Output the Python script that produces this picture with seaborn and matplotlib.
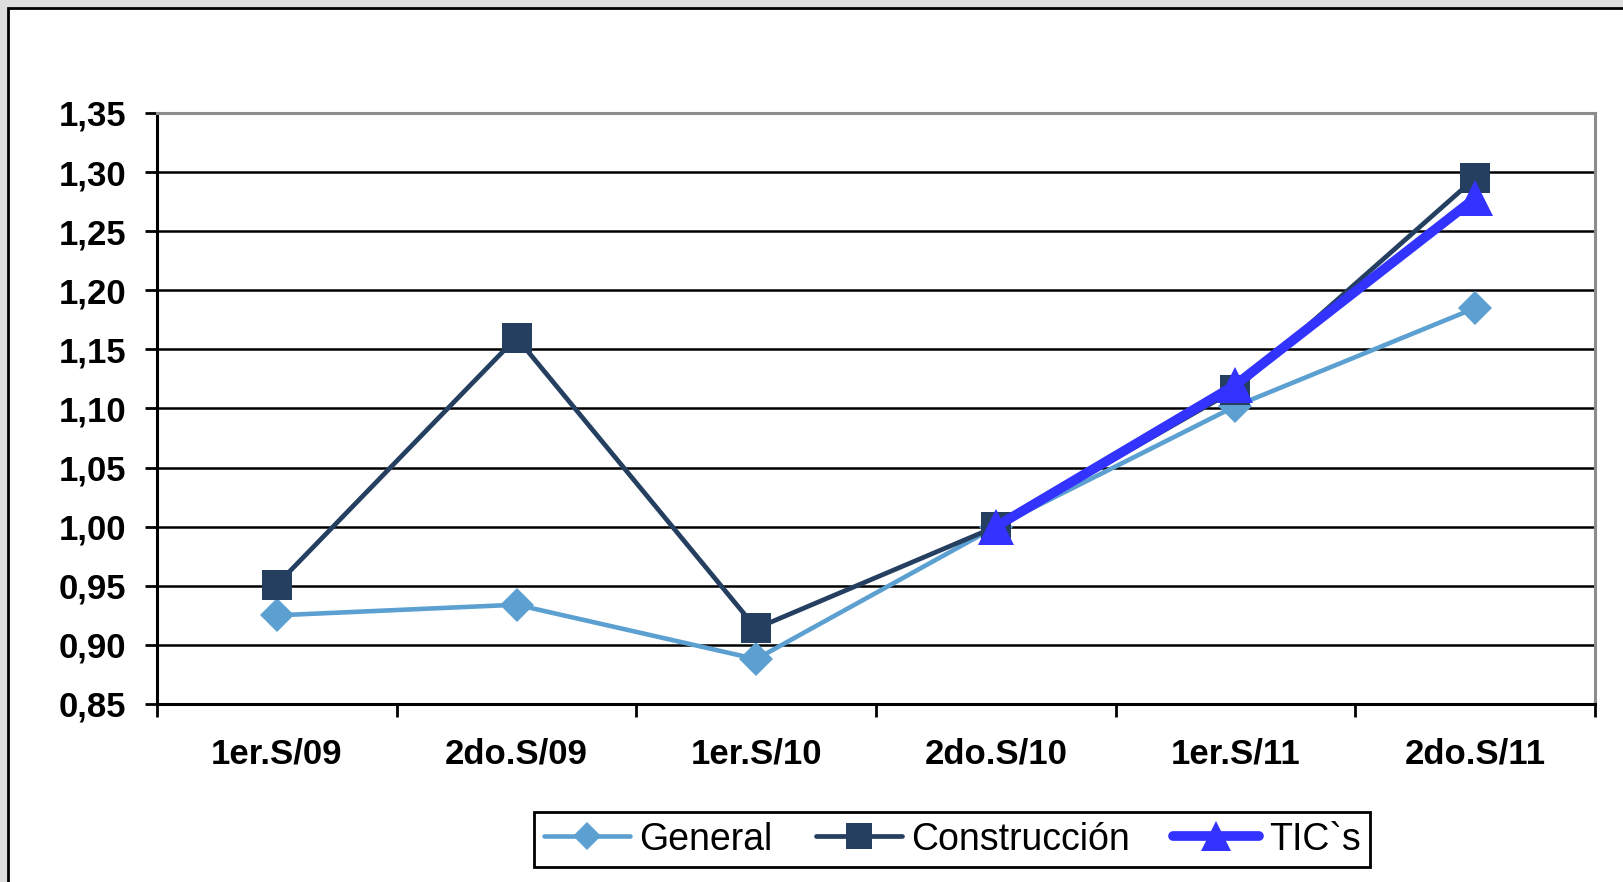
import numpy as np
import pandas as pd
import seaborn as sns
import matplotlib.pyplot as plt
from matplotlib.patches import Rectangle
from matplotlib.ticker import FuncFormatter, FixedLocator
from matplotlib import font_manager

sns.set_style('white')
plt.rcParams['font.family'] = ['Liberation Sans', 'DejaVu Sans']
plt.rcParams['text.color'] = 'black'
plt.rcParams['xtick.color'] = 'black'
plt.rcParams['ytick.color'] = 'black'

periodos = ['1er.S/09', '2do.S/09', '1er.S/10', '2do.S/10', '1er.S/11', '2do.S/11']
general = [0.925, 0.934, 0.888, 1.000, 1.102, 1.185]
construccion = [0.951, 1.160, 0.914, 1.000, 1.116, 1.295]
tics = [np.nan, np.nan, np.nan, 1.000, 1.120, 1.278]
y_ticks = [0.85, 0.90, 0.95, 1.00, 1.05, 1.10, 1.15, 1.20, 1.25, 1.30, 1.35]

df = pd.DataFrame({'periodo': periodos, 'General': general,
                   'Construcción': construccion, 'TIC`s': tics})

W, H = 1624, 882
fig = plt.figure(figsize=(W / 100, H / 100), dpi=100, facecolor='#dedede')
fig.patches.append(Rectangle((8.5 / W, -0.05), 1.1, 1 - 7.5 / H + 0.05,
                             transform=fig.transFigure, facecolor='white',
                             edgecolor='black', linewidth=2, zorder=-10))

ax = fig.add_axes([157 / W, (H - 704) / H, (1595 - 157) / W, (704 - 113) / H])
ax.set_facecolor('white')

# series: (name, colour, marker, line width, marker size)
series = [('General', '#5BA0D0', 'D', 3.3, 17),
          ('Construcción', '#243F60', 's', 3.4, 22),
          ('TIC`s', '#3333FF', '^', 7.0, 26)]
x = np.arange(len(periodos))
for name, color, marker, lw, ms in series:
    sns.lineplot(x=x, y=df[name].values, ax=ax, color=color, marker=marker,
                 linewidth=lw, markersize=ms, markeredgewidth=0, label=name,
                 zorder=3)

ax.set_xlim(-0.5, len(periodos) - 0.5)
ax.set_ylim(0.85, 1.35)
ax.yaxis.set_major_locator(FixedLocator(y_ticks))
ax.yaxis.set_major_formatter(FuncFormatter(lambda v, p: f'{v:.2f}'.replace('.', ',')))
ax.grid(axis='y', color='black', linewidth=1.8)
ax.grid(axis='x', visible=False)

ax.set_xticks(np.arange(-0.5, len(periodos)), minor=False)
ax.set_xticklabels([])
ax.set_xticks(x, minor=True)
ax.set_xticklabels(periodos, minor=True, fontsize=25, fontweight='bold')
ax.tick_params(axis='x', which='major', direction='out', length=9, width=2,
               color='black', bottom=True)
ax.tick_params(axis='x', which='minor', length=0, pad=24)
ax.tick_params(axis='y', direction='out', length=9, width=2, color='black',
               left=True, labelsize=25, pad=13)
for lab in ax.get_yticklabels():
    lab.set_fontweight('bold')

for side in ['left', 'bottom']:
    ax.spines[side].set_color('black')
    ax.spines[side].set_linewidth(2.2)
for side in ['top', 'right']:
    ax.spines[side].set_color('#8c8c8c')
    ax.spines[side].set_linewidth(2.2)

names = {f.name for f in font_manager.fontManager.ttflist}
leg_font = 'Liberation Sans Narrow' if 'Liberation Sans Narrow' in names else 'Liberation Sans'
leg = ax.legend(loc='center', bbox_to_anchor=(952 / W, 1 - 839.5 / H),
                bbox_transform=fig.transFigure, ncol=3, frameon=True,
                fancybox=False, edgecolor='black', framealpha=1,
                prop={'family': leg_font, 'size': 27}, handlelength=2.3,
                handletextpad=0.25, columnspacing=1.15, borderpad=0.25,
                markerscale=0.85)
leg.get_frame().set_linewidth(2)

fig.savefig('out.png', dpi=100, facecolor=fig.get_facecolor())
